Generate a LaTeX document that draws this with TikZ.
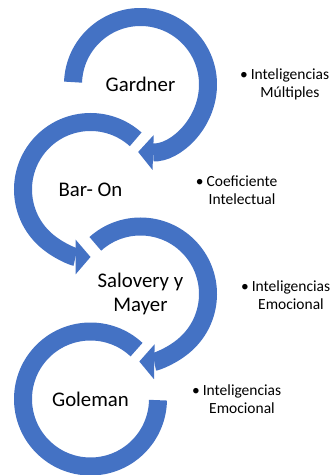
\documentclass[tikz,border=0pt]{standalone}
\usepackage{fontspec}
\setmainfont{Carlito}
\usetikzlibrary{arrows.meta}
\definecolor{ringblue}{HTML}{4472C4}

\begin{document}
\begin{tikzpicture}[x=1pt,y=1pt]

\useasboundingbox (0,0) rectangle (332,475);

\tikzstyle{ring}=[draw=ringblue,line width=18pt]
\tikzstyle{ringarrow}=[ring,-{Triangle[length=15pt,width=35pt,line width=0pt]}]
\tikzstyle{every node}=[inner sep=0pt,align=center,font=\fontsize{20.8}{24}\selectfont];

% Draw the names in the middle of the rings
\node (gardner) at (140.5,390.5) {Gardner};
\node (baron) at (90.5,285.5) {Bar- On};
\node (salovery) at (140.5,181) {Salovery y\\Mayer};
\node (goleman) at (90.5,76) {Goleman};

% Rings between the names
\draw[ringarrow] ([shift={(178:67.5pt)}]gardner.center) arc (178:-92:67.5pt);
\draw[ringarrow] ([shift={(48:67.5pt)}]baron.center) arc (48:270:67.5pt);
\draw[ringarrow] ([shift={(132:67.5pt)}]salovery.center) arc (132:-91:67.5pt);
\draw[ring] ([shift={(47:67.5pt)}]goleman.center) arc (47:359:67.5pt);

% Draw the bullet text next to each ring
\tikzstyle{every node}=[inner sep=0pt,align=center,font=\fontsize{15.5}{18}\selectfont];
\node (multiples) at (290,391) {\llap{•\hspace{3pt}}Inteligencias\\Múltiples};
\node (intelectual) at (242,284.5) {\llap{•\hspace{3pt}}Coeficiente\\Intelectual};
\node (emocional) at (291,180) {\llap{•\hspace{3pt}}Inteligencias\\Emocional};
\node (emocionalb) at (242,76) {\llap{•\hspace{3pt}}Inteligencias\\Emocional};

\end{tikzpicture}
\end{document}
